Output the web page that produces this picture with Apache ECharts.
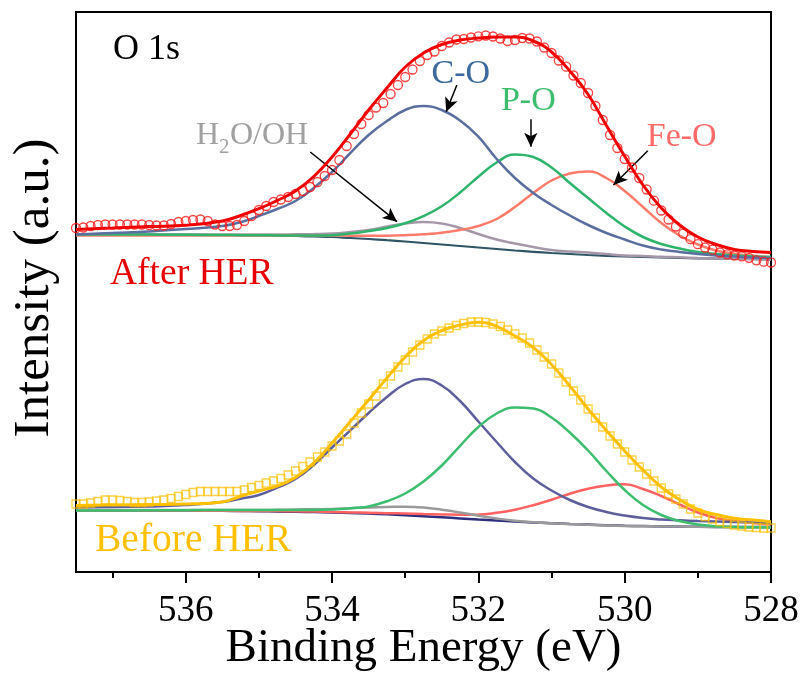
<!DOCTYPE html>
<html>
<head>
<meta charset="utf-8">
<script src="https://cdn.jsdelivr.net/npm/echarts@6/dist/echarts.min.js"></script>
<style>
  html, body { margin: 0; padding: 0; background: #fff; }
  #chart { width: 805px; height: 677px; }
</style>
</head>
<body>
<div id="chart"></div>
<script>
// Binding energies of the measured scan points (eV)
const scanEnergy = [
  537.5, 537.4, 537.3, 537.2, 537.1, 537.0, 536.9, 536.8, 536.7, 536.6,
  536.5, 536.4, 536.3, 536.2, 536.1, 536.0, 535.9, 535.8, 535.7, 535.6,
  535.5, 535.4, 535.3, 535.2, 535.1, 535.0, 534.9, 534.8, 534.7, 534.6,
  534.5, 534.4, 534.3, 534.2, 534.1, 534.0, 533.9, 533.8, 533.7, 533.6,
  533.5, 533.4, 533.3, 533.2, 533.1, 533.0, 532.9, 532.8, 532.7, 532.6,
  532.5, 532.4, 532.3, 532.2, 532.1, 532.0, 531.9, 531.8, 531.7, 531.6,
  531.5, 531.4, 531.3, 531.2, 531.1, 531.0, 530.9, 530.8, 530.7, 530.6,
  530.5, 530.4, 530.3, 530.2, 530.1, 530.0, 529.9, 529.8, 529.7, 529.6,
  529.5, 529.4, 529.3, 529.2, 529.1, 529.0, 528.9, 528.8, 528.7, 528.6,
  528.5, 528.4, 528.3, 528.2, 528.1, 528.0
];

// Measured O 1s intensity after HER (offset upward)
const afterData = [
  344, 344.5, 346, 347, 347.5, 347.5, 347.5, 347.5, 347.5, 347.5,
  347, 346.5, 346.5, 348, 350, 351, 352, 352.5, 351, 347.5,
  346, 346, 347, 351, 356, 362, 366, 370, 372.5, 375,
  378, 381, 385, 390, 396, 402, 412, 426, 438, 448,
  457, 464.5, 469, 478, 487, 495, 502.5, 511, 517, 520.5,
  526, 529.5, 532.5, 533, 534.5, 535.7, 536.5, 535.5, 533.5, 531,
  532, 534, 533.5, 530.5, 524.5, 519, 511.5, 505.3, 496.5, 489,
  479, 466, 452, 437, 424, 413, 404.5, 394, 382.5, 371.3,
  361.5, 352.5, 345.5, 338.3, 332.8, 327.8, 324.5, 322.3, 319.5, 317.7,
  316.5, 315.6, 314.2, 311.7, 310.3, 309.5
];

// Measured O 1s intensity before HER
const beforeData = [
  68, 68, 69, 70.5, 72, 72, 71.5, 70.5, 69.5, 69.5,
  70, 71, 72, 73.5, 75.5, 77.5, 79.5, 80.5, 80.5, 80.5,
  80.5, 80.5, 80.5, 82, 84.5, 86.5, 89, 91, 93.5, 97,
  101, 105.5, 110, 115, 120, 126, 131, 138, 149, 159,
  168, 176, 188, 196, 205, 212, 220, 227, 233, 238,
  241, 244, 246.5, 248.5, 250, 250, 249.5, 248, 245.5, 242,
  238, 234, 229, 222, 215, 208, 199, 190, 181, 172,
  163, 154, 145, 136, 128, 120, 112, 105, 98, 91,
  84, 78, 73, 68, 63, 59, 55.5, 53, 50.5, 48.5,
  47, 46, 45, 44.5, 44, 44
];

// Energies at which the fitted curves are tabulated (eV)
const fitEnergy = [
  537.5, 537, 536.5, 536, 535.5, 535.25, 535, 534.75, 534.5, 534.25, 534,
  533.75, 533.5, 533.25, 533, 532.75, 532.5, 532.25, 532,
  531.75, 531.5, 531.25, 531, 530.75, 530.5, 530.25, 530,
  529.75, 529.5, 529.25, 529, 528.75, 528.5, 528.25, 528
];

// Fit after HER
const afterEnvelope = [
  342.5, 344, 345.5, 346.7, 351, 356.5, 363.3, 371.5, 381, 395.5, 415,
  438, 462, 484, 505, 519, 527.5, 532, 534,
  535, 535, 531, 520, 501, 477.5, 446.5, 415.7,
  387, 364, 347, 335, 327.5, 322.5, 320.5, 319.5
];
const afterCO = [
  337.5, 339, 340.5, 343, 346, 349.7, 356, 363, 371, 384, 400,
  419, 437, 451, 462, 466, 462, 451.5, 435.3,
  413, 394, 379, 367, 356.5, 347, 339, 332.5,
  326.5, 322.5, 320, 318, 316.5, 315.5, 314.5, 314
];
const afterPO = [
  337.5, 337.5, 337.4, 337.2, 337, 336.8, 336.7, 336.6, 336.5, 336.5, 336.8,
  338.5, 341, 344, 348.7, 355.8, 365.7, 379.5, 395.3,
  409.5, 417.5, 415, 404.5, 389, 374, 359, 345.5,
  335, 328, 323.5, 320, 318, 316.5, 315.5, 315
];
const afterFeO = [
  336.5, 336.5, 336.5, 336.5, 336.5, 336.5, 336.5, 336.5, 336.5, 336.5, 336.5,
  336.3, 336.2, 336.3, 336.8, 337.7, 339.2, 342, 346,
  353, 365, 379, 391.5, 398.5, 400.5, 394, 381,
  365, 349, 336.5, 327.5, 321.5, 318.3, 316.3, 315
];
const afterH2O = [
  337.5, 337.5, 337.5, 337.5, 337.5, 337.5, 337.5, 337.5, 337.7, 338, 338.5,
  340, 342, 345.5, 348.5, 350, 348.5, 344, 338,
  332.5, 328.5, 325, 322, 320.5, 319.5, 318, 316.5,
  316, 315.2, 314.7, 314, 313.5, 313.2, 312.8, 312.5
];
const afterBackground = [
  337.5, 337.5, 337.4, 337.2, 337, 336.8, 336.5, 336.2, 336, 335.5, 335,
  334, 333, 331.8, 330.5, 329, 327.5, 326, 324.5,
  323, 321.5, 320.2, 319, 318, 317, 316.2, 315.5,
  315, 314.5, 314, 313.7, 313.4, 313.2, 313, 312.7
];

// Fit before HER
const beforeEnvelope = [
  66.5, 67, 67.5, 68, 70, 75.8, 81, 86, 94.5, 109, 129,
  150.5, 172, 194, 215, 231.5, 241.5, 247, 249.7,
  245.7, 236, 224.5, 207.5, 186, 163, 141.5, 121,
  102, 85, 72.5, 62.5, 57.5, 53.7, 52, 50.3
];
const beforeCO = [
  64.5, 65, 65.5, 67, 70, 73.3, 77, 84.3, 93, 107, 124.5,
  141.7, 159, 175, 188, 193, 186.5, 171, 150.5,
  130, 110, 93.5, 81.5, 72, 65, 60, 56.5,
  54, 52.5, 51.7, 51, 50.5, 50, 49.5, 49
];
const beforePO = [
  61.5, 61.5, 61.7, 61.8, 62, 62, 62, 62, 62, 62, 62.5,
  63.7, 65.6, 70.7, 78.5, 90.5, 106.5, 126.2, 145,
  158.5, 164.5, 163.5, 154.5, 139.5, 121.5, 101, 82,
  67, 57, 51, 47.5, 45.8, 45, 44.7, 44.5
];
const beforeFeO = [
  61.5, 61.5, 61.5, 61.4, 61.2, 61.1, 61, 60.9, 60.7, 60.4, 60,
  59.6, 59.2, 58.8, 58.5, 58, 57.6, 57.3, 57.4,
  59.2, 62.3, 66.8, 72.3, 78.3, 83.3, 86.6, 87.7,
  83, 76, 67.5, 59.5, 54, 51, 49, 47.5
];
const beforeH2O = [
  62, 62, 62, 62, 62, 62, 62, 62.2, 62.5, 62.8, 63,
  63.8, 64.5, 65, 65.3, 64.5, 62.3, 59.5, 56.3,
  53.5, 51.2, 49.7, 48.7, 48, 47.3, 46.5, 46,
  45.8, 45.6, 45.4, 45.2, 45, 44.9, 44.8, 44.7
];
const beforeBackground = [
  61.5, 61.5, 61.5, 61.4, 61.2, 61, 60.8, 60.5, 60.2, 59.9, 59.5,
  59, 58.4, 57.7, 56.8, 55.8, 54.7, 53.6, 52.5,
  51.5, 50.5, 49.6, 48.8, 48, 47.4, 46.8, 46.3,
  45.9, 45.6, 45.4, 45.2, 45.1, 45, 45, 45
];

// Axis tick positions (eV)
const majorTicks = [528, 530, 532, 534, 536];
const minorTicks = [529, 531, 533, 535, 537];

const SERIF = 'Liberation Serif';

function pairs(xs, ys) {
  return xs.map(function (x, i) { return [x, ys[i]]; });
}

function fitLine(name, values, color, width, z) {
  return {
    name: name,
    type: 'line',
    data: pairs(fitEnergy, values),
    smooth: 0.45,
    symbol: 'none',
    lineStyle: { color: color, width: width },
    z: z,
    silent: true
  };
}

function label(text, x, y, size, color, align, extra) {
  const el = {
    type: 'text',
    x: x,
    y: y,
    silent: true,
    style: {
      text: text,
      fontFamily: SERIF,
      fontSize: size,
      fill: color,
      align: align,
      verticalAlign: 'middle'
    }
  };
  return Object.assign(el, extra || {});
}

const chart = echarts.init(document.getElementById('chart'), null, { renderer: 'canvas' });

const afterBase = fitLine('Background (after)', afterBackground, '#2F5566', 2.2, 2);
afterBase.markLine = {
  silent: true,
  animation: false,
  symbol: ['none', 'arrow'],
  symbolSize: [10, 14],
  label: { show: false },
  emphasis: { disabled: true },
  lineStyle: { color: '#000', width: 1.5, type: 'solid' },
  data: [
    [{ coord: [532.294, 487] }, { coord: [532.44, 460.3] }],
    [{ coord: [531.283, 452.7] }, { coord: [531.283, 425.3] }],
    [{ coord: [529.684, 421.3] }, { coord: [530.154, 387] }],
    [{ coord: [534.298, 420] }, { coord: [533.113, 350.3] }]
  ]
};

const option = {
  animation: false,
  backgroundColor: '#fff',
  grid: {
    left: 76, right: 34, top: 12, bottom: 105,
    show: true, borderColor: '#000', borderWidth: 2
  },
  xAxis: [
    {
      type: 'value', min: 528, max: 537.5, inverse: true, position: 'bottom',
      axisLine: { show: true, lineStyle: { color: '#000', width: 2 } },
      axisTick: {
        show: true, inside: false, length: 11, customValues: majorTicks,
        lineStyle: { color: '#000', width: 2 }
      },
      axisLabel: {
        customValues: majorTicks, color: '#000',
        fontFamily: SERIF, fontSize: 37, margin: 21
      },
      splitLine: { show: false }
    },
    {
      type: 'value', min: 528, max: 537.5, inverse: true, position: 'bottom',
      axisLine: { show: false },
      axisTick: {
        show: true, inside: false, length: 6, customValues: minorTicks,
        lineStyle: { color: '#000', width: 2 }
      },
      axisLabel: { show: false },
      splitLine: { show: false }
    }
  ],
  yAxis: { type: 'value', min: 0, max: 560, show: false },
  series: [
    // before HER
    fitLine('Background (before)', beforeBackground, '#2E2E80', 2.5, 2),
    fitLine('Fe-O (before)', beforeFeO, '#FF6262', 2.5, 3),
    fitLine('H2O/OH (before)', beforeH2O, '#9A9A9A', 2.5, 3),
    fitLine('C-O (before)', beforeCO, '#5F5E9C', 2.5, 4),
    fitLine('P-O (before)', beforePO, '#3CBE6E', 2.5, 4),
    {
      name: 'Before HER', type: 'scatter', data: pairs(scanEnergy, beforeData),
      symbol: 'rect', symbolSize: 8, silent: true, z: 5,
      itemStyle: { color: 'rgba(255,255,255,0)', borderColor: 'rgba(255,192,0,0.9)', borderWidth: 1.3 }
    },
    fitLine('Fit (before)', beforeEnvelope, '#FFC000', 3, 6),
    // after HER
    afterBase,
    fitLine('H2O/OH (after)', afterH2O, '#A697A8', 2.5, 3),
    fitLine('Fe-O (after)', afterFeO, '#FF7C6C', 2.5, 3),
    fitLine('P-O (after)', afterPO, '#2FB46C', 2.5, 4),
    fitLine('C-O (after)', afterCO, '#5B6EA0', 2.5, 4),
    {
      name: 'After HER', type: 'scatter', data: pairs(scanEnergy, afterData),
      symbol: 'circle', symbolSize: 9, silent: true, z: 5,
      itemStyle: { color: 'rgba(255,255,255,0)', borderColor: '#FF1414', borderWidth: 1.3 }
    },
    fitLine('Fit (after)', afterEnvelope, '#F00000', 3, 6)
  ],
  graphic: [
    label('O 1s', 113, 49.5, 36, '#000', 'left'),
    label('After HER', 110, 274, 37.5, '#E50000', 'left'),
    label('Before HER', 95, 541, 39.5, '#FFC000', 'left'),
    label('C-O', 460.8, 74.2, 34, '#3D6A9E', 'center'),
    label('P-O', 528.3, 100.8, 34, '#3DBE6E', 'center'),
    label('Fe-O', 681.7, 137.5, 34, '#FF6B6B', 'center'),
    label('H', 196, 135.8, 32, '#A0A0A0', 'left'),
    label('2', 219, 147.5, 21, '#A0A0A0', 'left'),
    label('O/OH', 230, 135.8, 32, '#A0A0A0', 'left'),
    label('Binding Energy (eV)', 423.5, 649, 47, '#000', 'center'),
    label('Intensity (a.u.)', 35, 288, 51, '#000', 'center', { rotation: Math.PI / 2 })
  ]
};

chart.setOption(option);
</script>
</body>
</html>
